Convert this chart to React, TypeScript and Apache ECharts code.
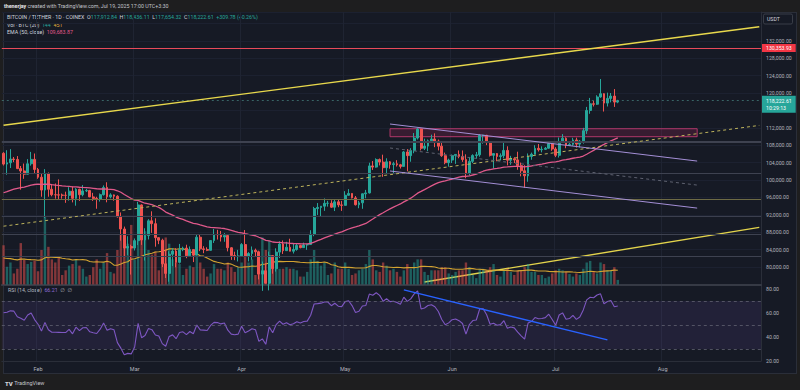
import { useEffect, useRef } from 'react';
import * as echarts from 'echarts';

const FONT = 'Roboto, "Noto Sans", "DejaVu Sans", sans-serif';

// ---------- axis categories ----------
const FIRST_DAY = '2025-01-22';
const AXIS_LAST_DAY = '2025-08-29';
const MONTH_NAMES = ['Jan', 'Feb', 'Mar', 'Apr', 'May', 'Jun', 'Jul', 'Aug', 'Sep', 'Oct', 'Nov', 'Dec'];

// ---------- daily candles [open, high, low, close] ----------
const OHLC_JAN = [
  [106140, 106400, 103330, 103660], [103660, 106850, 101210, 103960], [103960, 107100, 102750, 104820],
  [104820, 105290, 104100, 104710], [104710, 105500, 102500, 102620], [102620, 103220, 97780, 102080],
  [102080, 103780, 100270, 101330], [101330, 104800, 101330, 103730], [103730, 106460, 103300, 104740],
  [104740, 106090, 101540, 102430],
];
const OHLC_FEB = [
  [102430, 102780, 100280, 100640], [100640, 101460, 96150, 97690], [97690, 102500, 91230, 101400],
  [101400, 101730, 96150, 97870], [97870, 99000, 96250, 96620], [96620, 99200, 95700, 96590],
  [96590, 100140, 95650, 96530], [96530, 96880, 95690, 96480], [96480, 97320, 94750, 96470],
  [96470, 98350, 95260, 97430], [97430, 98500, 94850, 95780], [95780, 98120, 94090, 97870],
  [97870, 98000, 95200, 96610], [96610, 98830, 96250, 97500], [97500, 97970, 97230, 97570],
  [97570, 97730, 96050, 96120], [96120, 97050, 95210, 95770], [95770, 96150, 93390, 95540],
  [95540, 96900, 95040, 96630], [96630, 98760, 96420, 98300], [98300, 99480, 94870, 96130],
  [96130, 96950, 95780, 96580], [96580, 96670, 95230, 96270], [96270, 96500, 91370, 91550],
  [91550, 92540, 86050, 88740], [88740, 89290, 82260, 84350], [84350, 87080, 82720, 84710],
  [84710, 85120, 78260, 84350],
];
const OHLC_MAR = [
  [84350, 86560, 83800, 86060], [86060, 95000, 85050, 94270], [94270, 94420, 85080, 86220],
  [86220, 88910, 81500, 87220], [87220, 91000, 86330, 90620], [90620, 92800, 87850, 89960],
  [89960, 91200, 84670, 86740], [86740, 86880, 85250, 86150], [86150, 86500, 80000, 80730],
  [80730, 83960, 77460, 78530], [78530, 83620, 76610, 82930], [82930, 84360, 80200, 83680],
  [83680, 84330, 79940, 81070], [81070, 85300, 80800, 83980], [83980, 84670, 83630, 84340],
  [84340, 85120, 82020, 82580], [82580, 84730, 82490, 84010], [84010, 84020, 81130, 82720],
  [82720, 87450, 82720, 86850], [86850, 87450, 83650, 84170], [84170, 84780, 83170, 84040],
  [84040, 84530, 83650, 83830], [83830, 86110, 83830, 86080], [86080, 88750, 85530, 87500],
  [87500, 88540, 86310, 87420], [87420, 88290, 85860, 86900], [86900, 87790, 85800, 87230],
  [87230, 87500, 83590, 84420], [84420, 84570, 81640, 82650], [82650, 83520, 81570, 82390],
  [82390, 83940, 81280, 82550],
];
const OHLC_APR = [
  [82550, 85490, 82430, 85160], [85160, 88500, 82320, 82520], [82520, 83420, 81280, 83100],
  [83100, 84720, 81670, 83840], [83840, 84230, 82370, 83500], [83500, 83750, 77150, 78370],
  [78370, 81250, 74510, 79140], [79140, 80870, 76240, 76270], [76270, 83550, 74620, 82620],
  [82620, 82700, 78460, 79610], [79610, 84300, 78940, 83420], [83420, 85910, 82050, 85280],
  [85280, 86100, 83000, 83760], [83760, 85800, 83680, 84540], [84540, 86500, 83600, 83630],
  [83630, 85500, 83100, 84030], [84030, 85450, 83750, 84950], [84950, 85100, 84300, 84450],
  [84450, 85600, 84430, 85060], [85060, 85310, 83950, 85170], [85170, 88460, 85140, 87520],
  [87520, 93820, 87080, 93440], [93440, 94700, 91960, 93690], [93690, 94000, 91660, 93980],
  [93980, 95760, 92900, 94640], [94640, 95200, 93880, 94650], [94650, 95350, 93600, 93750],
  [93750, 95600, 92860, 94980], [94980, 95470, 93750, 94280], [94280, 95200, 92900, 94170],
];
const OHLC_MAY = [
  [94170, 97440, 94130, 96490], [96490, 97900, 96360, 96910], [96910, 96950, 95760, 95890],
  [95890, 96320, 94140, 94320], [94320, 95200, 93510, 94750], [94750, 96900, 93380, 96830],
  [96830, 97730, 95800, 97030], [97030, 103970, 96890, 103240], [103240, 104360, 102320, 102970],
  [102970, 104980, 102820, 104700], [104700, 104940, 103350, 104120], [104120, 105820, 100720, 102830],
  [102830, 104990, 101440, 104180], [104180, 104350, 102600, 103540], [103540, 104180, 101400, 103740],
  [103740, 104560, 103100, 103490], [103490, 103710, 102630, 103130], [103130, 106660, 103100, 106450],
  [106450, 107110, 102000, 105600], [105600, 107320, 104200, 106790], [106790, 110800, 106150, 109640],
  [109640, 111980, 109300, 111700], [111700, 111800, 106800, 107290], [107290, 109500, 106900, 107790],
  [107790, 109310, 106620, 109010], [109010, 110420, 108680, 109430], [109430, 110720, 107550, 108940],
  [108940, 109300, 106800, 107780], [107780, 108900, 105320, 105590], [105590, 106300, 103620, 103980],
  [103980, 104900, 103070, 104590],
];
const OHLC_JUN = [
  [104590, 105860, 103900, 105640], [105640, 105950, 103700, 105880], [105880, 106800, 105000, 105430],
  [105430, 106790, 104170, 104700], [104700, 105900, 100400, 101510], [101510, 105300, 101100, 104290],
  [104290, 105910, 103900, 105620], [105620, 106450, 104900, 105790], [105790, 110530, 105350, 110260],
  [110260, 110400, 108350, 110270], [110270, 110380, 108020, 108650], [108650, 108800, 105400, 105670],
  [105670, 106200, 102660, 106070], [106070, 106200, 104300, 105410], [105410, 106120, 104500, 105590],
  [105590, 108950, 104980, 106800], [106800, 107750, 103370, 104550], [104550, 105550, 103500, 104880],
  [104880, 105250, 103900, 104620], [104620, 106500, 102350, 103300], [103300, 104000, 100840, 102120],
  [102120, 103400, 98200, 100960], [100960, 106100, 99600, 105410], [105410, 106300, 104660, 105920],
  [105920, 108000, 105880, 107280], [107280, 108270, 106550, 106950], [106950, 107740, 106350, 107050],
  [107050, 107600, 106900, 107300], [107300, 108500, 107200, 108350], [108350, 108800, 106700, 107130],
];
const OHLC_JUL = [
  [107130, 107550, 105260, 105680], [105680, 109760, 105160, 108850], [108850, 110550, 108580, 109600],
  [109600, 109800, 107300, 107990], [107990, 108500, 107800, 108200], [108200, 109700, 107850, 109200],
  [109200, 109730, 107450, 108250], [108250, 109200, 107480, 108950], [108950, 111990, 108350, 111330],
  [111330, 116800, 110600, 115990], [115990, 118870, 115220, 117520], [117520, 118200, 116900, 117420],
  [117420, 119490, 117250, 119090], [119090, 123220, 118900, 119840], [119840, 119940, 115740, 117680],
  [117680, 120080, 116900, 118760], [118760, 120000, 117850, 119290], [119290, 120900, 116800, 117912.83],
  [117912.84, 118436.11, 117654.32, 118222.61],
];

// ---------- daily volume (BTC) ----------
const VOL_JAN = [1250, 560, 700, 350, 500, 1320, 780, 650, 720, 760];
const VOL_FEB = [420, 1100, 2150, 1200, 800, 700, 850, 300, 450, 600, 650, 800, 600, 500, 250, 300, 550, 800, 500, 700, 1000, 400, 350, 1100, 1600, 1700, 1300, 1900];
const VOL_MAR = [800, 1400, 1500, 1700, 1100, 950, 1050, 450, 900, 1500, 1300, 800, 700, 650, 300, 500, 600, 550, 900, 700, 500, 250, 350, 650, 500, 500, 450, 700, 550, 400, 550];
const VOL_APR = [700, 900, 700, 800, 300, 900, 1500, 1100, 1400, 900, 700, 500, 500, 550, 500, 500, 450, 250, 250, 400, 800, 1100, 750, 600, 700, 300, 350, 700, 500, 500];
const VOL_MAY = [700, 500, 300, 350, 450, 500, 650, 1100, 800, 450, 400, 700, 600, 450, 500, 400, 250, 450, 650, 500, 700, 800, 800, 400, 300, 450, 450, 450, 550, 550, 350];
const VOL_JUN = [300, 400, 450, 450, 700, 550, 300, 200, 500, 500, 450, 550, 650, 300, 250, 450, 500, 400, 300, 450, 450, 550, 650, 400, 400, 300, 300, 200, 250, 350];
const VOL_JUL = [450, 500, 450, 400, 330, 250, 350, 300, 500, 700, 750, 400, 350, 700, 650, 450, 450, 550, 144];

// ---------- indicator settings / history state ----------
const EMA_PERIOD = 50;
const EMA_PRIOR = 96800;
const VOL_MA_PERIOD = 20;
const VOL_MA_PRIOR = 820;
const RSI_PERIOD = 14;
const RSI_PRIOR_GAIN = 1500;
const RSI_PRIOR_LOSS = 800;

// ---------- drawings (date, price) ----------
const RED_LEVEL = 130353.93;
const LAST_PRICE = 118222.61;
const LAST_TIME = '10:29:13';
const LEVEL_PRICES = [108850, 101490, 95630, 91560, 87590, 82370];
const TREND_UPPER = [['2025-01-22', 112590], ['2025-08-29', 135220]];
const TREND_LOWER = [['2025-05-24', 76550], ['2025-08-29', 89100]];
const TREND_DASHED = [['2025-01-22', 89380], ['2025-08-29', 112550]];
const CHANNEL_UPPER = [['2025-05-14', 112870], ['2025-08-11', 104350]];
const CHANNEL_MID = [['2025-05-14', 107360], ['2025-08-11', 98830]];
const CHANNEL_LOWER = [['2025-05-14', 102070], ['2025-08-11', 93540]];
const ZONE = [['2025-05-14', 111790], ['2025-08-11', 109950]];
const RSI_TREND = [['2025-05-18', 79.3], ['2025-07-16', 37.6]];
const RSI_LEVELS = [70, 50, 30];

// ---------- header texts ----------
const TOP_AUTHOR = 'thenerjay';
const TOP_TEXT = ' created with TradingView.com, Jul 19, 2025 17:00 UTC+3:30';
const SYMBOL_TEXT = 'BITCOIN / TETHER · 1D · COINEX';
const EMA_TEXT = '109,683.87';
const RSI_TEXT = '66.21';

// ---------- styles ----------
const UP = '#26a69a';
const DOWN = '#ef5350';
const VOL_UP = 'rgba(38,166,154,0.5)';
const VOL_DOWN = 'rgba(239,83,80,0.5)';
const LEVEL_COLORS = ['#3e4250', '#3e4250', '#6e6b45', '#3b3f4e', '#3e4250', '#3e4250'];
const LEVEL_WIDTHS = [2, 1.2, 1.2, 1.2, 1.2, 1.2];
const AXIS_TEXT = '#b2b5be';

function buildDates(first: string, last: string) {
  const out: string[] = [];
  const d = new Date(first + 'T00:00:00Z');
  const end = new Date(last + 'T00:00:00Z');
  while (d.getTime() <= end.getTime()) {
    out.push(d.toISOString().slice(0, 10));
    d.setUTCDate(d.getUTCDate() + 1);
  }
  return out;
}

const fmt2 = (v: number) =>
  v.toLocaleString('en-US', { minimumFractionDigits: 2, maximumFractionDigits: 2 });

function buildOption() {
  const dates = buildDates(FIRST_DAY, AXIS_LAST_DAY);
  const ohlc = [...OHLC_JAN, ...OHLC_FEB, ...OHLC_MAR, ...OHLC_APR, ...OHLC_MAY, ...OHLC_JUN, ...OHLC_JUL];
  const vols = [...VOL_JAN, ...VOL_FEB, ...VOL_MAR, ...VOL_APR, ...VOL_MAY, ...VOL_JUN, ...VOL_JUL];
  const closes = ohlc.map((d) => d[3]);

  const candleData = ohlc.map(([o, h, l, c]) => [o, c, l, h]);
  const volData = vols.map((v, i) => ({
    value: v,
    itemStyle: { color: ohlc[i][3] >= ohlc[i][0] ? VOL_UP : VOL_DOWN },
  }));

  // EMA (50, close)
  const k = 2 / (EMA_PERIOD + 1);
  let e = EMA_PRIOR;
  const ema = closes.map((c) => {
    e = c * k + e * (1 - k);
    return +e.toFixed(2);
  });

  // Volume SMA (20)
  const volMA = vols.map((_, i) => {
    let s = 0;
    for (let j = i - VOL_MA_PERIOD + 1; j <= i; j++) s += j >= 0 ? vols[j] : VOL_MA_PRIOR;
    return +(s / VOL_MA_PERIOD).toFixed(1);
  });

  // RSI (14, close), Wilder smoothing
  let ag = RSI_PRIOR_GAIN;
  let al = RSI_PRIOR_LOSS;
  let prev = ohlc[0][0];
  const rsi = closes.map((c) => {
    const ch = c - prev;
    prev = c;
    ag = (ag * (RSI_PERIOD - 1) + Math.max(ch, 0)) / RSI_PERIOD;
    al = (al * (RSI_PERIOD - 1) + Math.max(-ch, 0)) / RSI_PERIOD;
    return +(100 - 100 / (1 + ag / al)).toFixed(2);
  });

  const last = ohlc[ohlc.length - 1];
  const prevClose = ohlc[ohlc.length - 2][3];
  const chg = last[3] - prevClose;
  const chgPct = (chg / prevClose) * 100;
  const sign = chg >= 0 ? '+' : '';
  const lastVol = vols[vols.length - 1];
  const lastVolMA = Math.round(volMA[volMA.length - 1]);

  const isMonthStart = (_i: number, v: string) => v.slice(8) === '01';
  const monthLabel = (v: string) => MONTH_NAMES[+v.slice(5, 7) - 1];

  const trend = (pts: any[], color: string, width: number, type: any = 'solid', xi = 0, yi = 0, z = 5) => ({
    type: 'line',
    xAxisIndex: xi,
    yAxisIndex: yi,
    data: pts,
    symbol: 'none',
    showSymbol: false,
    silent: true,
    z,
    lineStyle: { color, width, type },
  });

  const rich = (fill: string, extra: any = {}) => ({ fill, fontSize: 5.3, fontFamily: FONT, ...extra });

  return {
    animation: false,
    backgroundColor: 'transparent',
    textStyle: { fontFamily: FONT },
    grid: [
      { left: 1.8, right: 39, top: 12, height: 272.4 },
      { left: 1.8, right: 39, top: 284.4, height: 76.6 },
    ],
    xAxis: [
      {
        type: 'category',
        gridIndex: 0,
        data: dates,
        boundaryGap: true,
        axisLine: { show: true, lineStyle: { color: '#363a45', width: 2 } },
        axisTick: { show: false },
        axisLabel: { show: false },
        splitLine: { show: true, interval: isMonthStart, lineStyle: { color: '#1f2432', width: 1 } },
      },
      {
        type: 'category',
        gridIndex: 1,
        data: dates,
        boundaryGap: true,
        axisLine: { show: true, lineStyle: { color: '#2a2e39', width: 1 } },
        axisTick: { show: false },
        axisLabel: {
          show: true,
          interval: isMonthStart,
          formatter: monthLabel,
          color: AXIS_TEXT,
          fontSize: 5.5,
          fontFamily: FONT,
          margin: 5,
        },
        splitLine: { show: true, interval: isMonthStart, lineStyle: { color: '#1f2432', width: 1 } },
      },
    ],
    yAxis: [
      {
        type: 'value',
        gridIndex: 0,
        position: 'right',
        min: 76000,
        max: 138621,
        interval: 4000,
        axisLine: { show: true, lineStyle: { color: '#2a2e39' } },
        axisTick: { show: false },
        axisLabel: {
          color: AXIS_TEXT,
          fontSize: 5.2,
          fontFamily: FONT,
          margin: 5,
          showMinLabel: false,
          showMaxLabel: false,
          formatter: (v: number) => (v < 80000 || v > 132000 || v === 116000 ? '' : fmt2(v)),
        },
        splitLine: { show: true, lineStyle: { color: '#1c2130', width: 1 } },
      },
      { type: 'value', gridIndex: 0, min: 0, max: 8700, show: false, splitLine: { show: false } },
      {
        type: 'value',
        gridIndex: 1,
        position: 'right',
        min: 20,
        max: 83.83,
        interval: 20,
        axisLine: { show: true, lineStyle: { color: '#2a2e39' } },
        axisTick: { show: false },
        axisLabel: {
          color: AXIS_TEXT,
          fontSize: 5.2,
          fontFamily: FONT,
          margin: 5,
          showMaxLabel: false,
          formatter: (v: number) => (v > 80 ? '' : v.toFixed(2)),
        },
        splitLine: { show: false },
      },
    ],
    series: [
      trend(TREND_LOWER, '#e3d44c', 1.4, 'solid', 0, 0, 0),
      {
        type: 'bar',
        xAxisIndex: 0,
        yAxisIndex: 1,
        data: volData,
        barWidth: '70%',
        silent: true,
        z: 1,
      },
      {
        type: 'line',
        xAxisIndex: 0,
        yAxisIndex: 1,
        data: volMA,
        symbol: 'none',
        showSymbol: false,
        silent: true,
        z: 2,
        lineStyle: { color: '#d4a431', width: 1.1 },
      },
      {
        type: 'candlestick',
        xAxisIndex: 0,
        yAxisIndex: 0,
        data: candleData,
        barWidth: '68%',
        silent: true,
        z: 3,
        itemStyle: { color: UP, color0: DOWN, borderColor: UP, borderColor0: DOWN, borderWidth: 1 },
        markArea: {
          silent: true,
          itemStyle: { color: 'rgba(190,40,100,0.2)', borderColor: 'rgba(200,60,115,0.85)', borderWidth: 1 },
          data: [[{ xAxis: ZONE[0][0], yAxis: ZONE[0][1] }, { xAxis: ZONE[1][0], yAxis: ZONE[1][1] }]],
        },
        markLine: {
          silent: true,
          symbol: ['none', 'none'],
          label: { show: false },
          data: [
            ...LEVEL_PRICES.map((p, i) => ({
              yAxis: p,
              lineStyle: { color: LEVEL_COLORS[i], width: LEVEL_WIDTHS[i], type: 'solid' },
              label: { show: false },
            })),
            {
              yAxis: RED_LEVEL,
              lineStyle: { color: '#e84a5a', width: 1, type: 'solid' },
              label: {
                show: true,
                position: 'end',
                distance: 1,
                formatter: fmt2(RED_LEVEL),
                backgroundColor: '#f23645',
                color: '#ffffff',
                fontSize: 5.2,
                fontFamily: FONT,
                padding: [1.5, 4, 1.5, 4],
              },
            },
            {
              yAxis: LAST_PRICE,
              lineStyle: { color: 'rgba(80,150,145,0.6)', width: 1, type: [2, 3] },
              label: {
                show: true,
                position: 'end',
                distance: 1,
                formatter: fmt2(LAST_PRICE) + '\n' + LAST_TIME,
                backgroundColor: UP,
                color: '#ffffff',
                fontSize: 5.2,
                lineHeight: 7,
                fontFamily: FONT,
                padding: [1.5, 4, 1.5, 4],
                offset: [0, 3.5],
              },
            },
          ],
        },
      },
      {
        type: 'line',
        xAxisIndex: 0,
        yAxisIndex: 0,
        data: ema,
        symbol: 'none',
        showSymbol: false,
        silent: true,
        z: 4,
        lineStyle: { color: '#e0598b', width: 1.3 },
      },
      trend(TREND_UPPER, '#e8d84c', 1.4),
      trend(TREND_DASHED, '#bdb35c', 1, [3, 3]),
      trend(CHANNEL_UPPER, '#a48fd6', 1),
      trend(CHANNEL_LOWER, '#a48fd6', 1),
      trend(CHANNEL_MID, '#5f6270', 1, [3, 3]),
      {
        type: 'line',
        xAxisIndex: 1,
        yAxisIndex: 2,
        data: rsi,
        symbol: 'none',
        showSymbol: false,
        silent: true,
        z: 4,
        lineStyle: { color: '#7e57c2', width: 1.1 },
        markArea: {
          silent: true,
          itemStyle: { color: 'rgba(126,87,194,0.12)' },
          data: [[{ yAxis: RSI_LEVELS[2] }, { yAxis: RSI_LEVELS[0] }]],
        },
        markLine: {
          silent: true,
          symbol: ['none', 'none'],
          label: { show: false },
          lineStyle: { color: '#5f6170', width: 0.8, type: [3, 3] },
          data: RSI_LEVELS.map((v) => ({ yAxis: v })),
        },
      },
      trend(RSI_TREND, '#2962ff', 1.4, 'solid', 1, 2),
    ],
    graphic: [
      {
        type: 'text',
        x: 4,
        y: 6,
        silent: true,
        style: {
          text: `{a|${TOP_AUTHOR}}{b|${TOP_TEXT}}`,
          verticalAlign: 'middle',
          fontSize: 5.3,
          fontFamily: FONT,
          rich: { a: rich('#e6e7ea', { fontWeight: 'bold' }), b: rich('#c3c5cb') },
        },
      },
      {
        type: 'text',
        x: 7,
        y: 17.3,
        silent: true,
        style: {
          text:
            `{t|${SYMBOL_TEXT}}  {t|O}{v|${fmt2(last[0])}}  {t|H}{v|${fmt2(last[1])}}  ` +
            `{t|L}{v|${fmt2(last[2])}}  {t|C}{v|${fmt2(last[3])}}  ` +
            `{v|${sign}${fmt2(chg)} (${sign}${chgPct.toFixed(2)}%)}`,
          verticalAlign: 'middle',
          fontSize: 5.3,
          fontFamily: FONT,
          rich: { t: rich('#d1d4dc'), v: rich(UP) },
        },
      },
      {
        type: 'text',
        x: 7,
        y: 24.8,
        silent: true,
        style: {
          text: `{t|Vol · BTC (20)}  {v|${lastVol}}  {y|${lastVolMA}}`,
          verticalAlign: 'middle',
          fontSize: 5.3,
          fontFamily: FONT,
          rich: { t: rich('#d1d4dc'), v: rich(UP), y: rich('#e0b03a') },
        },
      },
      {
        type: 'text',
        x: 7,
        y: 32.2,
        silent: true,
        style: {
          text: `{t|EMA (50, close)}  {p|${EMA_TEXT}}`,
          verticalAlign: 'middle',
          fontSize: 5.3,
          fontFamily: FONT,
          rich: { t: rich('#d1d4dc'), p: rich('#e0598b') },
        },
      },
      {
        type: 'text',
        x: 8,
        y: 289.5,
        silent: true,
        style: {
          text: `{t|RSI (14, close)}  {p|${RSI_TEXT}}  {t|∅  ∅}`,
          verticalAlign: 'middle',
          fontSize: 5.3,
          fontFamily: FONT,
          rich: { t: rich('#b2b5be'), p: rich('#8e6bd6') },
        },
      },
      {
        type: 'rect',
        silent: true,
        shape: { x: 763.5, y: 14, width: 29, height: 10, r: 1.5 },
        style: { fill: '#161a25', stroke: '#434651', lineWidth: 0.8 },
      },
      {
        type: 'text',
        x: 767,
        y: 19,
        silent: true,
        style: { text: 'USDT', verticalAlign: 'middle', fill: '#d1d4dc', fontSize: 5.2, fontFamily: FONT },
      },
      {
        type: 'text',
        x: 5,
        y: 383,
        silent: true,
        style: {
          text: '{b|TV} {t|TradingView}',
          verticalAlign: 'middle',
          fontSize: 5.5,
          fontFamily: FONT,
          rich: { b: rich('#d1d4dc', { fontWeight: 900, fontSize: 6 }), t: rich('#c3c5cb', { fontSize: 5.5 }) },
        },
      },
    ],
  };
}

export default function App() {
  const ref = useRef<HTMLDivElement>(null);
  useEffect(() => {
    if (!ref.current) return;
    const chart = echarts.init(ref.current, undefined, { renderer: 'svg' });
    chart.setOption(buildOption() as any);
    return () => chart.dispose();
  }, []);
  return (
    <div
      style={{
        position: 'fixed',
        left: 0,
        top: 0,
        width: 800,
        height: 390,
        background: '#1e1e1f',
        overflow: 'hidden',
      }}
    >
      <div
        style={{
          position: 'absolute',
          left: 3,
          top: 12,
          width: 794,
          height: 362,
          background: '#161a25',
          boxSizing: 'border-box',
          border: '1px solid #2a2e39',
        }}
      />
      <div ref={ref} style={{ position: 'absolute', left: 0, top: 0, width: 800, height: 390 }} />
    </div>
  );
}
